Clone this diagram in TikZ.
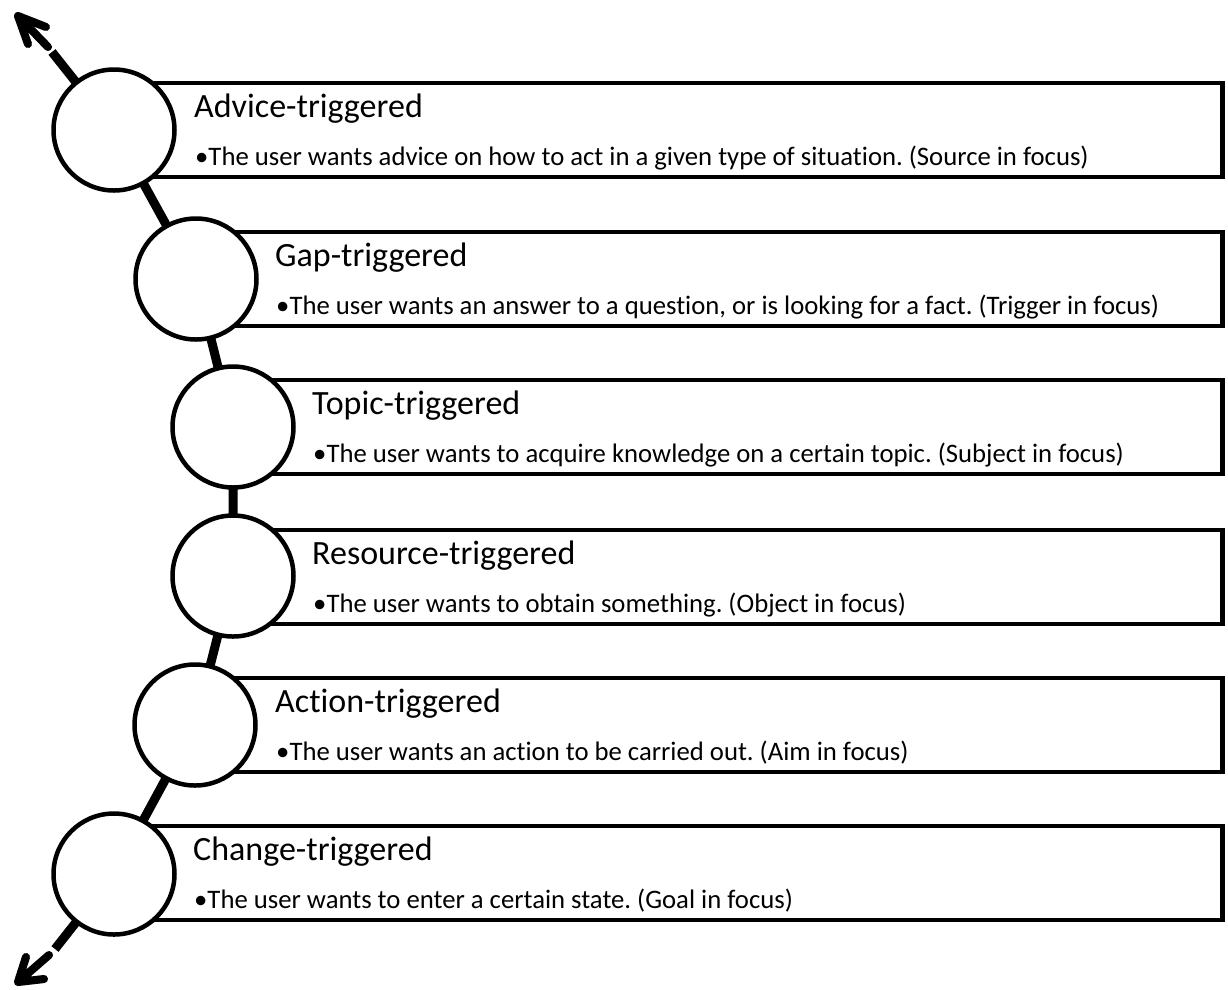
\documentclass[tikz,border=0pt]{standalone}
\usepackage{fontspec}
\setmainfont{Carlito}[Ligatures=NoCommon]
\frenchspacing
\usetikzlibrary{backgrounds}
\tikzset{
  circ/.style={circle, draw=black, fill=white, line width=4.5pt, minimum size=121pt, inner sep=0pt, outer sep=0pt},
  boxnode/.style={rectangle, draw=black, fill=white, line width=4.5pt, inner sep=0pt, outer sep=0pt, anchor=north west, minimum height=94pt},
  ttl/.style={anchor=base west, inner sep=0pt, font=\fontsize{34}{40}\selectfont},
  desc/.style={anchor=base west, inner sep=0pt, font=\fontsize{26.7}{32}\selectfont},
  spine/.style={line width=9pt, draw=black},
  arr/.style={line width=8pt, draw=black, line cap=round, line join=round},
  arrshadow/.style={line width=8pt, draw=black!25, line cap=round, line join=round}
}
\begin{document}
\begin{tikzpicture}[x=1pt,y=-1pt]
\useasboundingbox (0,0) rectangle (1228,989);
% circles
\node[circ] (c1) at (114,130) {};
\node[circ] (c2) at (196,279) {};
\node[circ] (c3) at (233,427) {};
\node[circ] (c4) at (233,576) {};
\node[circ] (c5) at (195,725) {};
\node[circ] (c6) at (114,874) {};
% texts
\node[ttl] (t1) at (194,117) {Advice-triggered};
\node[desc] (d1) at (195,165) {•The user wants advice on how to act in a given type of situation. (Source in focus)};
\node[ttl] (t2) at (275,266) {Gap-triggered};
\node[desc] (d2) at (276,314) {•The user wants an answer to a question, or is looking for a fact. (Trigger in focus)};
\node[ttl] (t3) at (312,414) {Topic-triggered};
\node[desc] (d3) at (313,462) {•The user wants to acquire knowledge on a certain topic. (Subject in focus)};
\node[ttl] (t4) at (312,564) {Resource-triggered};
\node[desc] (d4) at (313,612) {•The user wants to obtain something. (Object in focus)};
\node[ttl] (t5) at (275,712) {Action-triggered};
\node[desc] (d5) at (276,760) {•The user wants an action to be carried out. (Aim in focus)};
\node[ttl] (t6) at (193,860) {Change-triggered};
\node[desc] (d6) at (194,908) {•The user wants to enter a certain state. (Goal in focus)};
% arrow coordinates
\coordinate (ga) at (52,52);
\coordinate (gb) at (48,47);
\coordinate (tipA) at (18,16);
\coordinate (armA1) at (46,27);
\coordinate (armA2) at (28,44);
\coordinate (gc) at (55,949);
\coordinate (gd) at (49,955);
\coordinate (tipB) at (18,982);
\coordinate (armB1) at (44,979);
\coordinate (armB2) at (26,957);
\begin{pgfonlayer}{background}
\node[boxnode, minimum width=1108.5pt] (b1) at (114,83) {};
\node[boxnode, minimum width=1026.5pt] (b2) at (196,232) {};
\node[boxnode, minimum width=989.5pt] (b3) at (233,380) {};
\node[boxnode, minimum width=989.5pt] (b4) at (233,530) {};
\node[boxnode, minimum width=1027.5pt] (b5) at (195,678) {};
\node[boxnode, minimum width=1108.5pt] (b6) at (114,826) {};
\draw[spine] (c1.center) -- (c2.center) -- (c3.center) -- (c4.center) -- (c5.center) -- (c6.center);
\draw[spine] (c1.center) -- (ga);
\draw[spine] (c6.center) -- (gc);
\draw[arrshadow, shift={(2pt,3pt)}] (gb) -- (tipA) (armA1) -- (tipA) -- (armA2);
\draw[arrshadow, shift={(2pt,3pt)}] (gd) -- (tipB) (armB1) -- (tipB) -- (armB2);
\draw[arr] (gb) -- (tipA) (armA1) -- (tipA) -- (armA2);
\draw[arr] (gd) -- (tipB) (armB1) -- (tipB) -- (armB2);
\end{pgfonlayer}
\end{tikzpicture}
\end{document}
